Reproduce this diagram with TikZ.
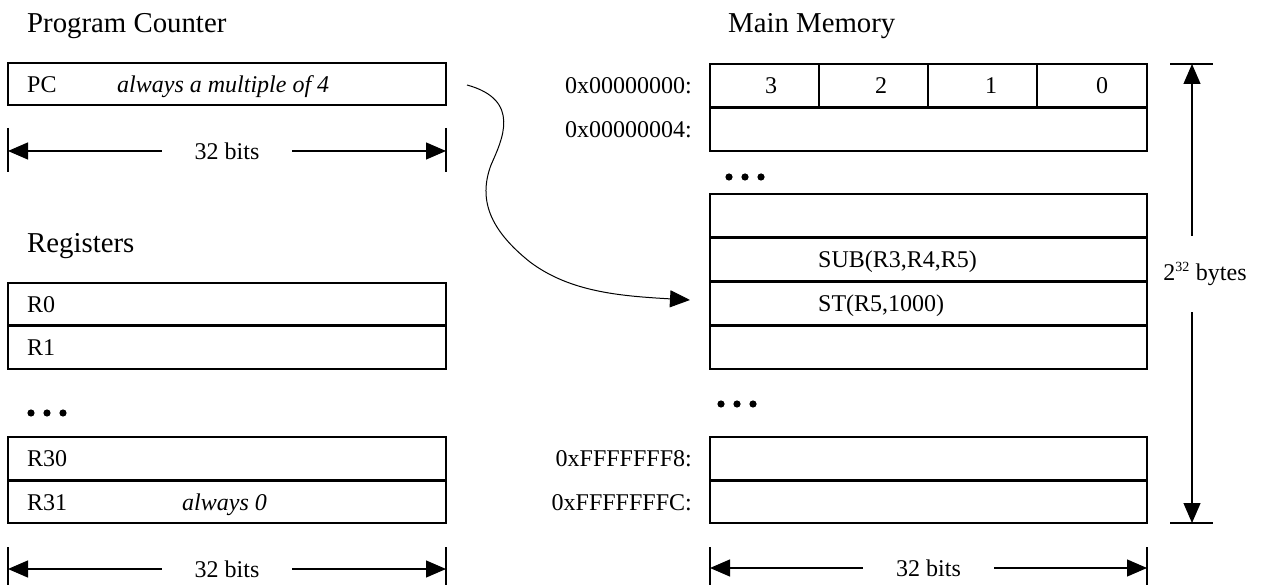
\documentclass[tikz,border=0pt]{standalone}
\usepackage{fontspec}
\setmainfont{Liberation Serif}
\usetikzlibrary{arrows.meta}
\begin{document}
\begin{tikzpicture}[x=1pt,y=-1pt,
  lw/.style={line width=1.2pt},
  rowbox/.style={draw, line width=1.2pt, minimum height=43pt, inner sep=0pt, outer sep=0pt, anchor=north west},
  regbox/.style={rowbox, minimum width=438pt},
  membox/.style={rowbox, minimum width=437pt},
  divider/.style={line width=3pt},
  txt/.style={font=\fontsize{24}{28}\selectfont, inner sep=0pt, anchor=base west},
  addr/.style={font=\fontsize{24}{28}\selectfont, inner sep=0pt, anchor=base east},
  digit/.style={font=\fontsize{24}{28}\selectfont, inner sep=0pt, anchor=base},
  title/.style={font=\fontsize{28.8}{34}\selectfont, inner sep=0pt, anchor=base west},
  dim/.style={line width=1.2pt, {Triangle[length=20pt,width=17pt]}-{Triangle[length=20pt,width=17pt]}},
  dimlabel/.style={font=\fontsize{24}{28}\selectfont, fill=white, inner ysep=3pt},
]
\useasboundingbox (0,0) rectangle (1262,585);
\fill[white] (0,0) rectangle (1262,585);

% titles
\node[title] (tpc) at (27,33) {Program Counter};
\node[title] (tmm) at (728,33) {Main Memory};
\node[title] (treg) at (27,253) {Registers};

% program counter
\node[regbox, minimum height=42pt] (pc) at (8,63) {};
\node[txt] (pcl) at (27,93) {PC};
\node[txt] (pcn) at (117,93) {\itshape always a multiple of 4};

% PC width dimension
\draw[lw] (8,128) -- (8,172);
\draw[lw] (446,128) -- (446,172);
\coordinate (d1l) at (8,151);
\coordinate (d1r) at (446,151);
\draw[dim] (d1l) -- (d1r) node[midway, dimlabel, inner xsep=33pt] (d1t) {32 bits};

% registers
\node[regbox] (r0) at (8,283) {};
\node[regbox] (r1) at (8,326) {};
\node[regbox] (r30) at (8,437) {};
\node[regbox] (r31) at (8,480) {};
\draw[divider] (r0.south west) -- (r0.south east);
\draw[divider] (r30.south west) -- (r30.south east);
\node[txt] (r0l) at (27,313) {R0};
\node[txt] (r1l) at (27,356) {R1};
\node[txt] (r30l) at (27,467) {R30};
\node[txt] (r31l) at (27,510) {R31};
\node[txt] (r31n) at (182,510) {\itshape always 0};
\foreach \x in {31,47,63} \fill (\x,413) circle (3.6pt);

% registers width dimension
\draw[lw] (8,547) -- (8,585);
\draw[lw] (446,547) -- (446,585);
\coordinate (d2l) at (8,569);
\coordinate (d2r) at (446,569);
\draw[dim] (d2l) -- (d2r) node[midway, dimlabel, inner xsep=33pt] (d2t) {32 bits};

% main memory
\node[membox, minimum height=44pt] (m0) at (710,64) {};
\node[membox] (m4) at (710,108) {};
\draw[divider] (m0.south west) -- (m0.south east);
\foreach \x in {819,928,1037} \draw[lw] (\x,64) -- (\x,108);
\node[digit] (b3) at (771,94) {3};
\node[digit] (b2) at (881,94) {2};
\node[digit] (b1) at (991,94) {1};
\node[digit] (b0) at (1102,94) {0};
\node[addr] (a0) at (692,94) {0x00000000:};
\node[addr] (a4) at (692,138) {0x00000004:};
\foreach \x in {729,745,761} \fill (\x,177) circle (3.6pt);

\node[membox, minimum height=44pt] (ma) at (710,194) {};
\node[membox, minimum height=44pt] (mb) at (710,238) {};
\node[membox, minimum height=44pt] (mc) at (710,282) {};
\node[membox] (md) at (710,326) {};
\draw[divider] (ma.south west) -- (ma.south east);
\draw[divider] (mb.south west) -- (mb.south east);
\draw[divider] (mc.south west) -- (mc.south east);
\node[txt] (sub) at (818,268) {SUB(R3,R4,R5)};
\node[txt] (st) at (818,312) {ST(R5,1000)};
\foreach \x in {721,737,753} \fill (\x,404) circle (3.6pt);

\node[membox] (me) at (710,437) {};
\node[membox] (mf) at (710,480) {};
\draw[divider] (me.south west) -- (me.south east);
\node[addr] (af8) at (692,467) {0xFFFFFFF8:};
\node[addr] (afc) at (692,510) {0xFFFFFFFC:};

% memory width dimension
\draw[lw] (710,547) -- (710,585);
\draw[lw] (1147,547) -- (1147,585);
\coordinate (d3l) at (710,568);
\coordinate (d3r) at (1147,568);
\draw[dim] (d3l) -- (d3r) node[midway, dimlabel, inner xsep=33pt] (d3t) {32 bits};

% memory size dimension
\draw[lw] (1170,64) -- (1213,64);
\draw[lw] (1170,523) -- (1213,523);
\coordinate (d4t) at (1192,64);
\coordinate (d4b) at (1192,523);
\draw[dim] (d4t) -- (d4b);
\node[font=\fontsize{24}{28}\selectfont, fill=white, inner xsep=2pt, inner ysep=26pt] (size) at (1205,274) {2\textsuperscript{\fontsize{14}{16}\selectfont 32} bytes};

% pointer arrow
\coordinate (cs) at (467,85);
\coordinate (ct) at (690,300);
\draw[line width=1pt, -{Triangle[length=20pt,width=17pt]}] (cs) .. controls (522,100) and (502,140) .. (491,165) .. controls (478,200) and (490,230) .. (530,262) .. controls (570,292) and (620,296) .. (ct);
\end{tikzpicture}
\end{document}
